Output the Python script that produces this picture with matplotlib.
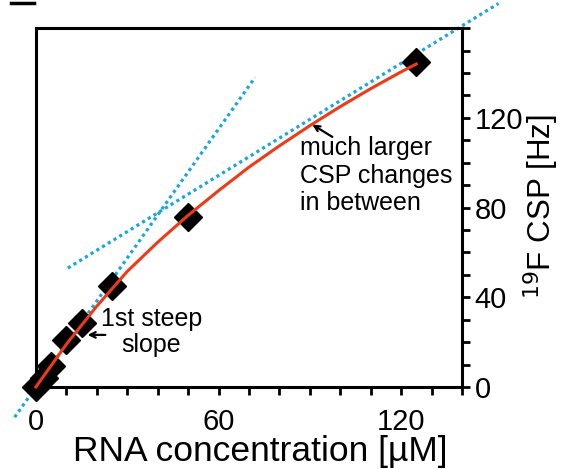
import matplotlib.pyplot as plt
from matplotlib import font_manager
from matplotlib.lines import Line2D

plt.rcParams['font.family'] = ['Liberation Sans', 'DejaVu Sans']

# measured points (RNA concentration in uM, 19F CSP in Hz)
rna_conc = [0, 2.5, 5, 10, 15, 25, 50, 125]
csp = [0, 4, 9.5, 21, 28.5, 45, 76, 145]

# fitted curve
fit_x = [0, 10, 20, 30, 40, 50, 60, 70, 80, 90, 100, 110, 120, 125]
fit_y = [0, 19, 36, 51.5, 64.5, 76.5, 87.5, 98, 107.5, 116.5, 125, 133, 140.5, 144]

# the two dotted slope guides (end points)
steep_x = [-7, 72]
steep_y = [-13.5, 138]
flat_x = [10.5, 152]
flat_y = [53, 171]

blue = '#1aa7dc'
red = '#ee3a16'

# tick labels in the original are condensed; use a narrow face if there is one
installed = {f.name for f in font_manager.fontManager.ttflist}
if 'Liberation Sans Narrow' in installed:
    tick_font, tick_size = 'Liberation Sans Narrow', 24
else:
    tick_font, tick_size = 'Liberation Sans', 21

fig = plt.figure(figsize=(5.61, 4.69), dpi=100)
ax = fig.add_axes([0.064, 0.175, 0.7595, 0.765])

# dotted guides
ax.plot(steep_x, steep_y, color=blue, linewidth=2.3, linestyle=(0, (1, 1.1)),
        clip_on=False, zorder=2)
ax.plot(flat_x, flat_y, color=blue, linewidth=2.3, linestyle=(0, (1, 1.1)),
        clip_on=False, zorder=2)

# data and fit
ax.plot(rna_conc, csp, linestyle='none', marker='D', markersize=14,
        color='black', clip_on=False, zorder=3)
ax.plot(fit_x, fit_y, color=red, linewidth=2.2, clip_on=False, zorder=4)

ax.set_xlim(0, 140)
ax.set_ylim(0, 160)
ax.set_xticks([0, 60, 120])
ax.set_xticks(range(0, 141, 10), minor=True)
ax.set_yticks([0, 40, 80, 120])
ax.set_yticks(range(0, 161, 10), minor=True)

ax.yaxis.tick_right()
for s in ax.spines.values():
    s.set_linewidth(2.2)
ax.tick_params(which='both', direction='out', width=2, labelsize=tick_size,
               labelfontfamily=tick_font)
ax.tick_params(axis='x', which='both', length=6, pad=9)
ax.tick_params(axis='y', which='both', length=6, pad=3, left=False)

ax.set_xlabel('RNA concentration [µM]', fontsize=25.5)
ax.xaxis.set_label_coords(0.526, -0.135)
ax.set_ylabel('$^{19}$F CSP [Hz]', fontsize=22.5, rotation=90,
              ha='center', va='center')
ax.yaxis.set_label_coords(1.186, 0.504)

# annotations
ax.text(38, 35.8, '1st steep\nslope', fontsize=18, ha='center', va='top',
        linespacing=1.12)
ax.annotate('', xy=(17, 23.2), xytext=(22.8, 23.2),
            arrowprops=dict(arrowstyle='->', color='black', lw=1.6,
                            shrinkA=0, shrinkB=0))
ax.annotate('', xy=(90.8, 117), xytext=(97.4, 111.5),
            arrowprops=dict(arrowstyle='->', color='black', lw=1.6,
                            shrinkA=0, shrinkB=0))
ax.text(86.8, 112, 'much larger\nCSP changes\nin between', fontsize=18,
        ha='left', va='top', linespacing=1.2)

# small dash at the top left corner
fig.add_artist(Line2D([11 / 561, 34 / 561], [1 - 3 / 469, 1 - 3 / 469],
                      color='black', linewidth=2.5))

fig.savefig('out.png', dpi=100)
